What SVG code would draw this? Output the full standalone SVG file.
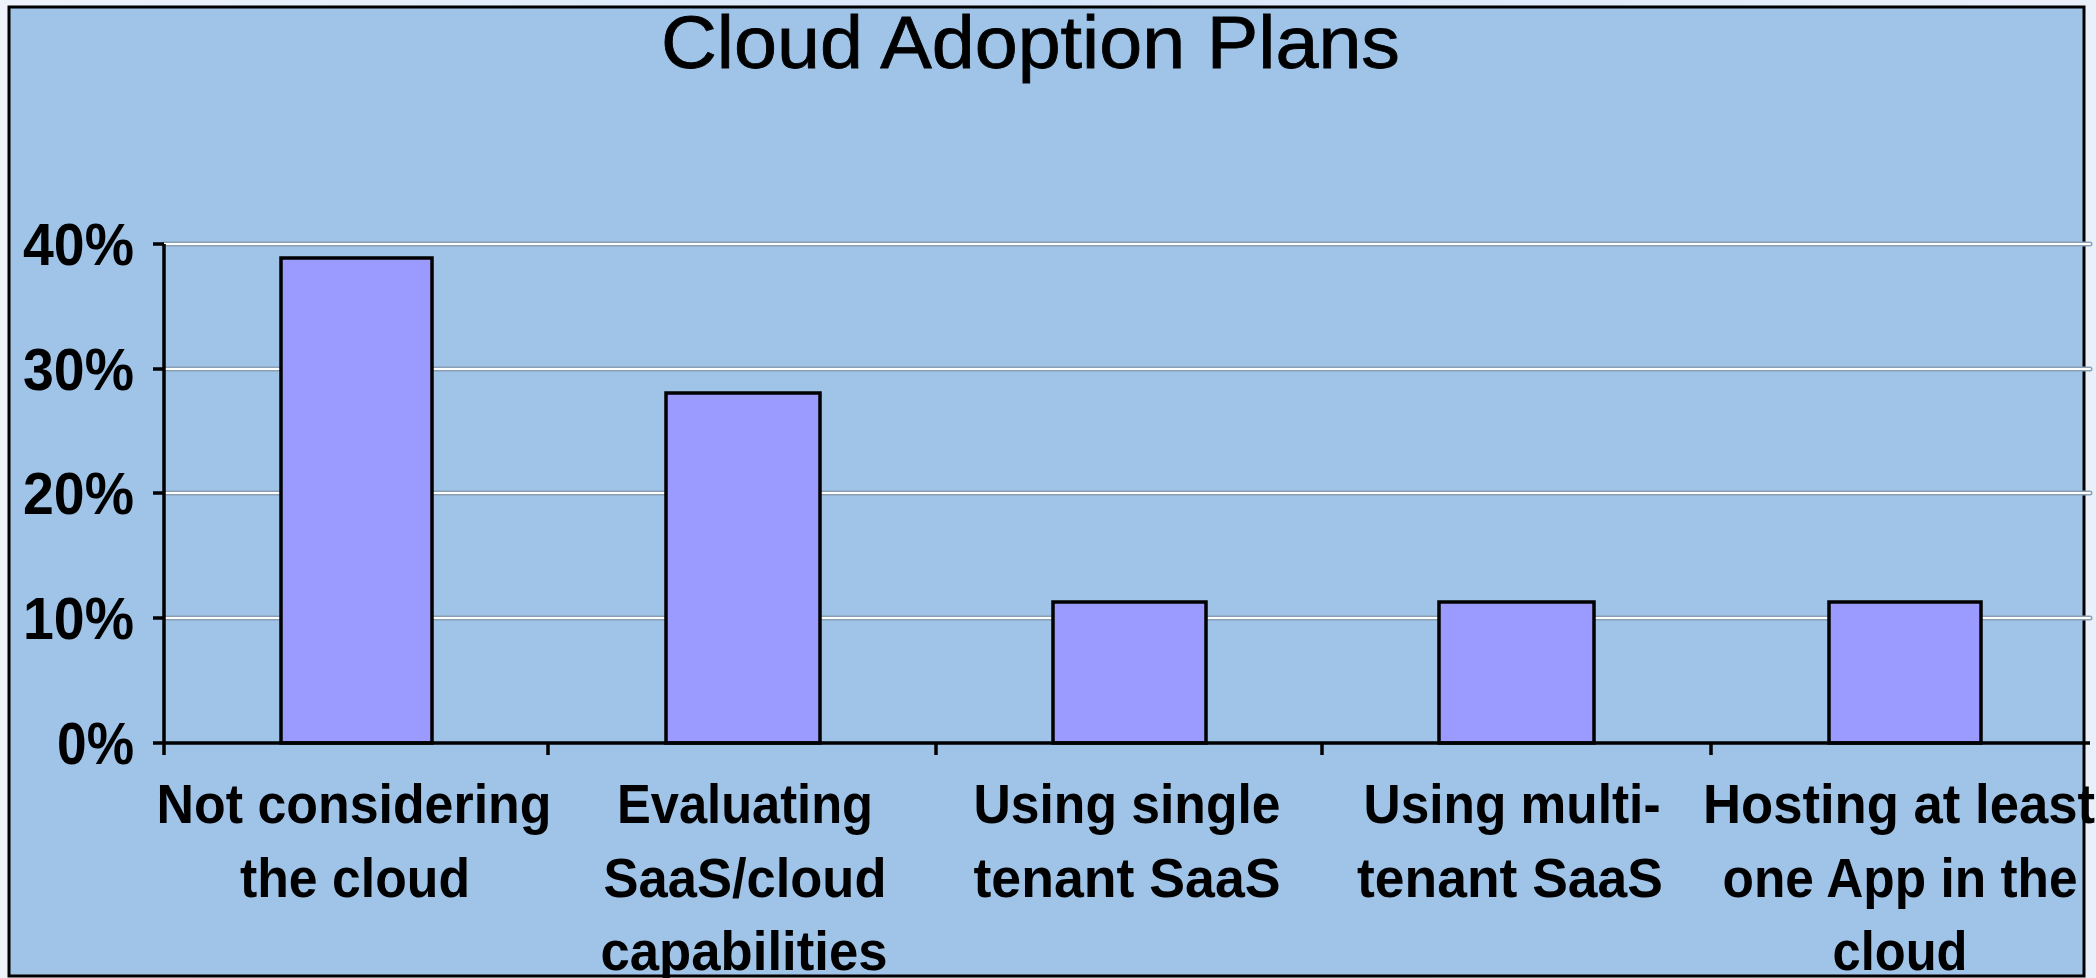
<svg xmlns="http://www.w3.org/2000/svg" width="2096" height="978" viewBox="0 0 2096 978">
<defs>
<linearGradient id="pg" x1="0" y1="0" x2="1" y2="0">
<stop offset="0" stop-color="#eef3fb"/>
<stop offset="0.5" stop-color="#d6e6fa"/>
<stop offset="1" stop-color="#eaf0fa"/>
</linearGradient>
</defs>
<style>
.t{font-family:"Liberation Sans",Arial,sans-serif;fill:#000}
.title{font-size:74px;stroke:#000;stroke-width:0.8px}
.cat{font-size:56px;font-weight:bold;text-anchor:middle}
.ylab{font-size:60px;font-weight:bold;text-anchor:end}
.bar{fill:#9b9bff;stroke:#000;stroke-width:3.5}
.gridO{stroke:#8a9fb3;stroke-width:5;stroke-linecap:round}
.gridI{stroke:#ffffff;stroke-width:2;stroke-linecap:round}
.ax{stroke:#000;stroke-width:3.5;fill:none}
</style>
<rect x="0" y="0" width="2096" height="978" fill="url(#pg)"/>
<g id="frame">
<rect x="9" y="7" width="2075" height="969" fill="#9fc4e8" stroke="#000" stroke-width="3"/>
</g>
<g id="title">
<text class="t title" x="661" y="68" textLength="739" lengthAdjust="spacingAndGlyphs">Cloud Adoption Plans</text>
</g>
<g id="gridlines">
<line class="gridO" x1="164" y1="244" x2="2090" y2="244"/><line class="gridI" x1="164" y1="244" x2="2090" y2="244"/>
<line class="gridO" x1="164" y1="369" x2="2090" y2="369"/><line class="gridI" x1="164" y1="369" x2="2090" y2="369"/>
<line class="gridO" x1="164" y1="493" x2="2090" y2="493"/><line class="gridI" x1="164" y1="493" x2="2090" y2="493"/>
<line class="gridO" x1="164" y1="618" x2="2090" y2="618"/><line class="gridI" x1="164" y1="618" x2="2090" y2="618"/>
</g>
<g id="bars">
<rect id="bar1" class="bar" x="281" y="258" width="151" height="485"/>
<rect id="bar2" class="bar" x="666" y="393" width="154" height="350"/>
<rect id="bar3" class="bar" x="1053" y="602" width="153" height="141"/>
<rect id="bar4" class="bar" x="1439" y="602" width="155" height="141"/>
<rect id="bar5" class="bar" x="1829" y="602" width="152" height="141"/>
</g>
<g id="axes">
<path class="ax" d="M164 244 V743 M153 244 H164 M153 369 H164 M153 493 H164 M153 618 H164 M153 743 H2090"/>
<path class="ax" d="M164 743 V755 M548 743 V755 M936 743 V755 M1322 743 V755 M1711 743 V755"/>
</g>
<g id="ylabels">
<text class="t ylab" x="134" y="265" textLength="111" lengthAdjust="spacingAndGlyphs">40%</text>
<text class="t ylab" x="134" y="390" textLength="111" lengthAdjust="spacingAndGlyphs">30%</text>
<text class="t ylab" x="134" y="514" textLength="111" lengthAdjust="spacingAndGlyphs">20%</text>
<text class="t ylab" x="134" y="639" textLength="111" lengthAdjust="spacingAndGlyphs">10%</text>
<text class="t ylab" x="134" y="764" textLength="77" lengthAdjust="spacingAndGlyphs">0%</text>
</g>
<g id="cat1">
<text class="t cat" x="354" y="823" textLength="395" lengthAdjust="spacingAndGlyphs">Not considering</text>
<text class="t cat" x="355" y="897" textLength="230" lengthAdjust="spacingAndGlyphs">the cloud</text>
</g>
<g id="cat2">
<text class="t cat" x="745" y="823" textLength="256" lengthAdjust="spacingAndGlyphs">Evaluating</text>
<text class="t cat" x="745" y="897" textLength="283" lengthAdjust="spacingAndGlyphs">SaaS/cloud</text>
<text class="t cat" x="744" y="970" textLength="287" lengthAdjust="spacingAndGlyphs">capabilities</text>
</g>
<g id="cat3">
<text class="t cat" x="1127" y="823" textLength="307" lengthAdjust="spacingAndGlyphs">Using single</text>
<text class="t cat" x="1127" y="897" textLength="307" lengthAdjust="spacingAndGlyphs">tenant SaaS</text>
</g>
<g id="cat4">
<text class="t cat" x="1512" y="823" textLength="297" lengthAdjust="spacingAndGlyphs">Using multi-</text>
<text class="t cat" x="1510" y="897" textLength="306" lengthAdjust="spacingAndGlyphs">tenant SaaS</text>
</g>
<g id="cat5">
<text class="t cat" x="1899" y="823" textLength="392" lengthAdjust="spacingAndGlyphs">Hosting at least</text>
<text class="t cat" x="1900" y="897" textLength="355" lengthAdjust="spacingAndGlyphs">one App in the</text>
<text class="t cat" x="1900" y="970" textLength="135" lengthAdjust="spacingAndGlyphs">cloud</text>
</g>
</svg>
